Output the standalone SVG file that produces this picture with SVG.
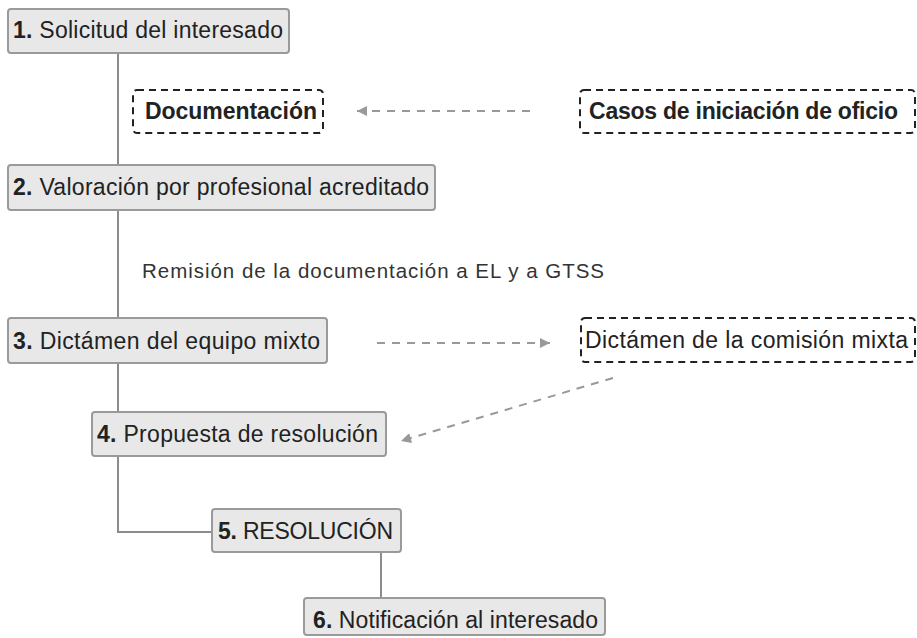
<svg xmlns="http://www.w3.org/2000/svg" width="917" height="638" viewBox="0 0 917 638">
<defs>
<style>
.box{fill:#e8e8e8;stroke:#9a9a9a;stroke-width:2}
.dbox{fill:#fff;stroke:#222;stroke-width:2;stroke-dasharray:7,5}
.t{font-family:"Liberation Sans",Arial,sans-serif;font-size:23px;fill:#222}
.b{font-weight:bold}
.s{font-family:"Liberation Sans",Arial,sans-serif;font-size:20.5px;fill:#333}
.line{fill:none;stroke:#8c8c8c;stroke-width:2}
.dash{fill:none;stroke:#999;stroke-width:2;stroke-dasharray:8,7}
</style>
<marker id="ah" viewBox="0 0 10 10" refX="10" refY="5" markerWidth="6" markerHeight="5" orient="auto" markerUnits="strokeWidth">
<path d="M0,0 L10,5 L0,10 z" fill="#999"/>
</marker>
</defs>
<rect width="917" height="638" fill="#fff"/>
<g id="connectors">
<path class="line" d="M118,53 V165 M118,210 V318 M118,363 V412 M118,456 V532 H212 M381,552 V598"/>
<path class="dash" d="M530,111 H357" marker-end="url(#ah)"/>
<path class="dash" d="M377,343 H550" marker-end="url(#ah)"/>
<path class="dash" d="M613,378 L401,441" marker-end="url(#ah)"/>
</g>
<g id="n1"><rect class="box" x="8" y="9" width="281" height="44" rx="3"/><text class="t" x="13" y="38" textLength="270"><tspan class="b">1.</tspan> Solicitud del interesado</text></g>
<g id="doc"><rect class="dbox" x="133" y="90" width="190" height="43" rx="4"/><text class="t b" x="145" y="119" textLength="172">Documentación</text></g>
<g id="casos"><rect class="dbox" x="580" y="90" width="335" height="43" rx="4"/><text class="t b" x="589" y="119" textLength="309">Casos de iniciación de oficio</text></g>
<g id="n2"><rect class="box" x="8" y="165" width="427" height="45" rx="3"/><text class="t" x="13" y="195" textLength="416"><tspan class="b">2.</tspan> Valoración por profesional acreditado</text></g>
<g id="remision"><text class="s" x="142" y="278" textLength="462">Remisión de la documentación a EL y a GTSS</text></g>
<g id="n3"><rect class="box" x="8" y="318" width="319" height="45" rx="3"/><text class="t" x="13" y="349" textLength="307"><tspan class="b">3.</tspan> Dictámen del equipo mixto</text></g>
<g id="comision"><rect class="dbox" x="581" y="318" width="334" height="44" rx="4"/><text class="t" x="585" y="348" textLength="323">Dictámen de la comisión mixta</text></g>
<g id="n4"><rect class="box" x="92" y="412" width="294" height="44" rx="3"/><text class="t" x="97" y="442" textLength="281"><tspan class="b">4.</tspan> Propuesta de resolución</text></g>
<g id="n5"><rect class="box" x="212" y="509" width="189" height="43" rx="3"/><text class="t" x="218" y="539" textLength="175"><tspan class="b">5.</tspan> RESOLUCIÓN</text></g>
<g id="n6"><rect class="box" x="304" y="598" width="301" height="37" rx="3"/><text class="t" x="313" y="628" textLength="285"><tspan class="b">6.</tspan> Notificación al interesado</text></g>
</svg>
